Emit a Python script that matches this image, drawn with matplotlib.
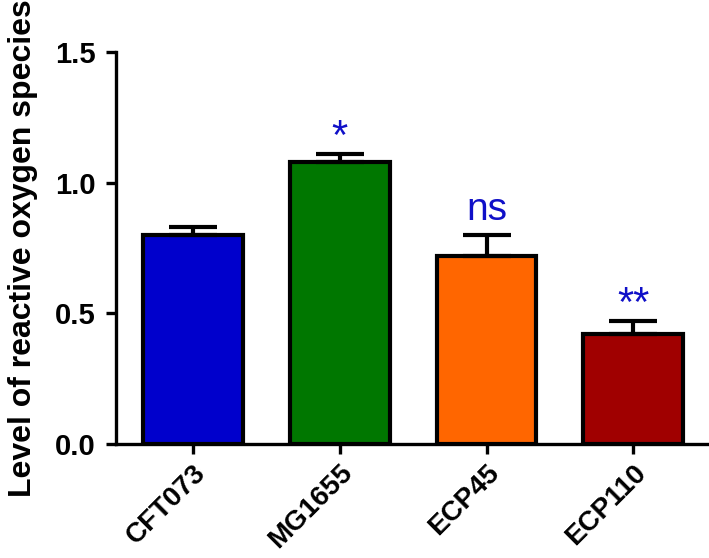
import numpy as np
import matplotlib
matplotlib.use("Agg")
import matplotlib.pyplot as plt

plt.rcParams['font.family'] = ['Liberation Sans', 'DejaVu Sans']

# data
strains = ["CFT073", "MG1655", "ECP45", "ECP110"]
ros_mean = [0.80, 1.08, 0.72, 0.42]
ros_sem = [0.03, 0.03, 0.08, 0.05]
signif = ["", "*", "ns", "**"]
bar_colors = ["#0000CC", "#007700", "#FF6600", "#A00000"]

fig = plt.figure(figsize=(7.09, 5.58), dpi=100)
ax = fig.add_axes([0.164, 0.204, 0.833, 0.703])

x = np.arange(len(strains))
ax.bar(x, ros_mean, width=0.68, color=bar_colors, edgecolor="black",
       linewidth=3.0, zorder=2)
ax.errorbar(x, ros_mean, yerr=[np.zeros(len(x)), ros_sem], fmt="none",
            ecolor="black", elinewidth=3.0, capsize=17, capthick=3.0, zorder=3)

for xi, m, e, s in zip(x, ros_mean, ros_sem, signif):
    if not s:
        continue
    if s == "ns":
        ax.text(xi, m + e + 0.025, s, ha="center", va="bottom",
                fontsize=28, color="#1010C8")
    else:
        ax.text(xi, m + e - 0.015, s, ha="center", va="bottom",
                fontsize=30, color="#1010C8")

ax.set_xlim(-0.52, 3.5)
ax.set_ylim(0, 1.5)
ax.set_yticks([0.0, 0.5, 1.0, 1.5])
ax.set_yticklabels(["0.0", "0.5", "1.0", "1.5"])
ax.set_xticks(x)
ax.set_xticklabels(strains, rotation=45, ha="right", rotation_mode="anchor")

for lbl in ax.get_yticklabels():
    lbl.set_fontweight("bold")
    lbl.set_fontsize(21)
for lbl in ax.get_xticklabels():
    lbl.set_fontweight("bold")
    lbl.set_fontsize(20)

ax.tick_params(axis="both", length=7, width=2.4, pad=4)
ax.tick_params(axis="y", pad=8)
ax.spines["top"].set_visible(False)
ax.spines["right"].set_visible(False)
ax.spines["left"].set_linewidth(2.4)
ax.spines["bottom"].set_linewidth(2.4)

ax.set_ylabel("Level of reactive oxygen species", fontsize=23,
              fontweight="bold", labelpad=12)

fig.savefig("out.png", dpi=100)
